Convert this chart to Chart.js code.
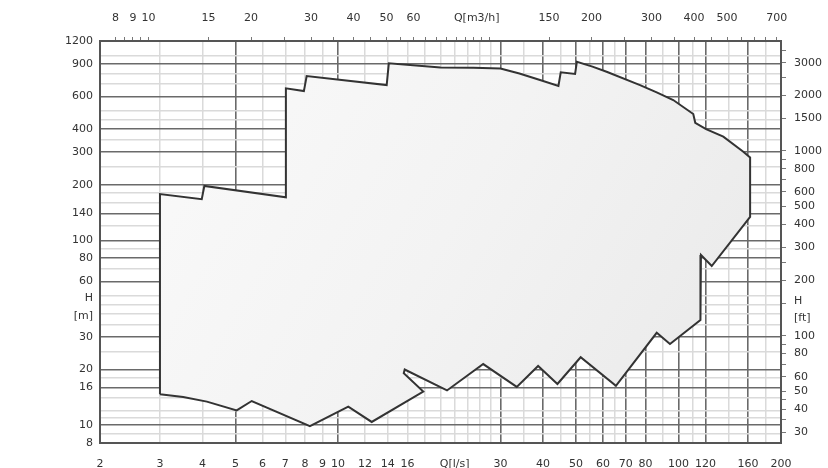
<!DOCTYPE html>
<html>
<head>
<meta charset="utf-8">
<script src="https://cdn.jsdelivr.net/npm/chart.js@4.4.0/dist/chart.umd.min.js"></script>
<style>
html,body{margin:0;padding:0;background:#fff}
</style>
</head>
<body>
<canvas id="myChart" width="828" height="468"></canvas>
<script>
// pump range envelope, Q in l/s and H in m
const envelopeQ = [3.0, 3.0, 3.98, 4.05, 7.03, 7.03, 7.94, 8.09, 13.9, 14.1, 20, 25, 30, 34.1, 39.2, 44.4, 45.1, 49.7, 50.3, 55.9, 61.5, 77.1, 86.3, 96.5, 110.5, 112, 120.5, 135.4, 155, 162.3, 162.3, 125.2, 116.4, 116, 94.4, 86.3, 65.5, 51.6, 44.1, 38.7, 33.5, 26.7, 20.9, 15.7, 15.6, 17.8, 12.56, 10.72, 8.27, 5.58, 5.04, 4.12, 3.51, 3.0]
const envelopeH = [14.7, 178, 167, 197, 171, 665, 643, 775, 693, 908, 862, 860, 852, 800, 738, 685, 812, 796, 927, 872, 818, 693, 632, 575, 483, 433, 400, 364, 302, 281, 134, 72.6, 83.3, 37.0, 27.5, 31.6, 16.3, 23.3, 16.7, 20.9, 16.1, 21.4, 15.4, 20.0, 19.1, 15.2, 10.4, 12.6, 9.87, 13.5, 12.0, 13.4, 14.2, 14.7]

// bottom axis Q[l/s]
const qLabels = [2,3,4,5,6,7,8,9,10,12,14,16,30,40,50,60,70,80,100,120,160,200]
const qMajor = [5,10,30,40,50,60,70,80,100,120,160]
const qMinor = [3,4,6,7,8,9,12,14,16,18,20,22,24,26,28,35,45,55,65,90,110,140,180]
const qTitleAt = 22

// top axis Q[m3/h]
const qm3Labels = [8,9,10,15,20,30,40,50,60,150,200,300,400,500,700]
const qm3Marks = [8,8.5,9,9.5,10,15,20,25,30,35,40,45,50,55,60,65,70,75,80,85,90,95,100,150,200,250,300,350,400,450,500,550,600,650,700]
const qm3TitleAt = 92

// left axis H[m]
const hLabels = [8,10,16,20,30,60,80,100,140,200,300,400,600,900,1200]
const hMajor = [10,16,20,30,60,80,100,140,200,300,400,600,900]
const hMinor = [9,11,12,14,18,25,35,40,45,50,70,90,120,160,180,250,350,450,500,700,800,1000]
const hTitleAt = 43.5

// right axis H[ft]
const ftLabels = [30,40,50,60,80,100,200,300,400,500,600,800,1000,1500,2000,3000]
const ftMarks = [30,35,40,45,50,60,70,80,90,100,150,200,250,300,400,500,600,700,800,900,1000,1500,2000,2500,3000,3500]
const ftTitleAt = 139

const darkLine = '#6a6a6a'
const lightLine = '#dadada'
const frame = '#555'
const font = {family: 'DejaVu Sans', size: 11, lineHeight: 1.55}

function uniqSorted(arr) {
    return [...new Set(arr)].sort((a, b) => a - b)
}
function setTicks(values) {
    return function(scale) {
        scale.ticks = values.map(v => ({value: v}))
    }
}

const bottomTicks = uniqSorted([...qLabels, ...qMajor, ...qMinor, qTitleAt])
const topTicks = uniqSorted([...qm3Marks, qm3TitleAt])
const leftTicks = uniqSorted([...hLabels, ...hMajor, ...hMinor, hTitleAt])
const rightTicks = uniqSorted([...ftMarks, ftTitleAt])

const points = envelopeQ.map((q, i) => ({x: q, y: envelopeH[i]}))

const cvs = document.getElementById('myChart')
new Chart(cvs, {
    type: 'line',
    data: {
        datasets: [{
            data: points,
            xAxisID: 'x',
            yAxisID: 'y',
            borderColor: '#333',
            borderWidth: 2,
            pointRadius: 0,
            tension: 0,
            fill: 'shape',
            backgroundColor: function(ctx) {
                const a = ctx.chart.chartArea
                if (!a) return '#f1f1f1'
                const g = ctx.chart.ctx.createLinearGradient(a.left, a.top, a.right, a.bottom)
                g.addColorStop(0, '#fbfbfb')
                g.addColorStop(0.5, '#f3f3f3')
                g.addColorStop(1, '#e8e8e8')
                return g
            }
        }]
    },
    options: {
        responsive: false,
        animation: false,
        layout: {padding: 0},
        plugins: {legend: {display: false}, tooltip: {enabled: false}},
        scales: {
            x: {
                type: 'logarithmic',
                position: 'bottom',
                min: 2,
                max: 200,
                afterBuildTicks: setTicks(bottomTicks),
                afterFit: s => { s.height = 25 },
                border: {color: frame, width: 2},
                grid: {
                    drawTicks: false,
                    lineWidth: ctx => qMajor.includes(ctx.tick.value) ? 1.6 : 1.5,
                    color: ctx => {
                        const v = ctx.tick.value
                        if (qMajor.includes(v)) return darkLine
                        if (qMinor.includes(v)) return lightLine
                        return 'rgba(0,0,0,0)'
                    }
                },
                ticks: {
                    autoSkip: false, minRotation: 0, maxRotation: 0, padding: 13,
                    color: '#333', font: font,
                    callback: v => v === qTitleAt ? 'Q[l/s]' : (qLabels.includes(v) ? String(v) : '')
                }
            },
            x2: {
                type: 'logarithmic',
                position: 'top',
                min: 7.2,
                max: 720,
                afterBuildTicks: setTicks(topTicks),
                afterFit: s => { s.height = 41 },
                border: {color: frame, width: 2},
                grid: {
                    drawOnChartArea: false,
                    drawTicks: true,
                    tickLength: 4,
                    color: ctx => ctx.tick && ctx.tick.value === qm3TitleAt ? 'rgba(0,0,0,0)' : '#777'
                },
                ticks: {
                    autoSkip: false, minRotation: 0, maxRotation: 0, padding: 10,
                    color: '#333', font: font,
                    callback: v => v === qm3TitleAt ? 'Q[m3/h]' : (qm3Labels.includes(v) ? String(v) : '')
                }
            },
            y: {
                type: 'logarithmic',
                position: 'left',
                min: 8,
                max: 1200,
                afterBuildTicks: setTicks(leftTicks),
                afterFit: s => { s.width = 100 },
                border: {color: frame, width: 2},
                grid: {
                    drawTicks: false,
                    lineWidth: ctx => hMajor.includes(ctx.tick.value) ? 1.6 : 1.5,
                    color: ctx => {
                        const v = ctx.tick.value
                        if (hMajor.includes(v)) return darkLine
                        if (hMinor.includes(v)) return lightLine
                        return 'rgba(0,0,0,0)'
                    }
                },
                ticks: {
                    autoSkip: false, padding: 7,
                    color: '#333', font: font,
                    callback: v => v === hTitleAt ? ['H', '[m]'] : (hLabels.includes(v) ? String(v) : '')
                }
            },
            y2: {
                type: 'logarithmic',
                position: 'right',
                min: 8 / 0.3048,
                max: 1200 / 0.3048,
                afterBuildTicks: setTicks(rightTicks),
                afterFit: s => { s.width = 47 },
                border: {color: frame, width: 2},
                grid: {
                    drawOnChartArea: false,
                    drawTicks: true,
                    tickLength: 5,
                    color: ctx => ctx.tick && ctx.tick.value === ftTitleAt ? 'rgba(0,0,0,0)' : '#777'
                },
                ticks: {
                    autoSkip: false, padding: 8,
                    color: '#333', font: font,
                    callback: v => v === ftTitleAt ? ['H', '[ft]'] : (ftLabels.includes(v) ? String(v) : '')
                }
            }
        }
    }
})
</script>
</body>
</html>
